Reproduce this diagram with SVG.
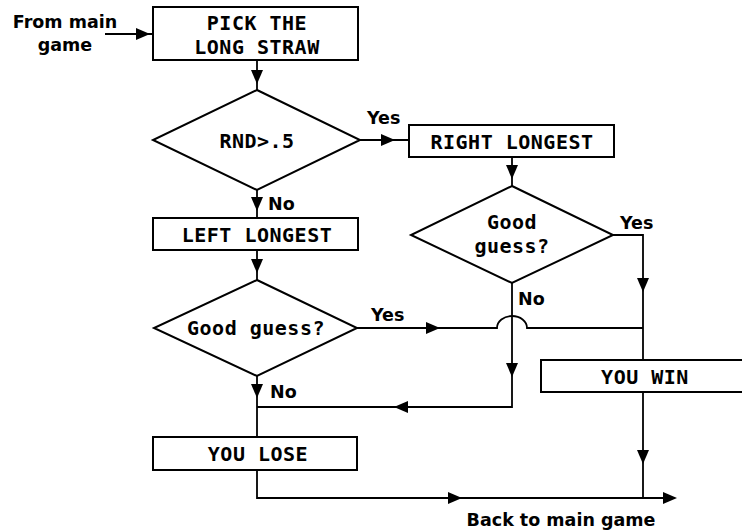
<svg xmlns="http://www.w3.org/2000/svg" xmlns:xlink="http://www.w3.org/1999/xlink" width="742" height="531" viewBox="0 0 742 531">
  <style>
    .box { fill: #fff; stroke: #000; stroke-width: 2; }
    .line { fill: none; stroke: #000; stroke-width: 1.8; }
    .mono { font-family: "DejaVu Sans Mono", "Liberation Mono", monospace; font-weight: bold; font-size: 20px; letter-spacing: 0.5px; fill: #000; text-anchor: middle; }
    .lbl { font-family: "DejaVu Sans", "Liberation Sans", sans-serif; font-weight: bold; font-size: 17.5px; fill: #000; }
  </style>
  <defs>
    <!-- filled arrowhead, tip at the origin, pointing right -->
    <polygon id="ah" points="0,0 -14,-6 -14,6" fill="#000"/>
  </defs>
  <rect width="742" height="531" fill="#fff"/>

  <g id="connectors">
    <!-- entry -->
    <path class="line" d="M105,34 H153"/>
    <use xlink:href="#ah" transform="translate(150,34)"/>
    <!-- pick -> RND test -->
    <path class="line" d="M257,60 V90"/>
    <use xlink:href="#ah" transform="translate(257,84) rotate(90)"/>
    <!-- RND yes -> right longest -->
    <path class="line" d="M360,140 H409"/>
    <use xlink:href="#ah" transform="translate(395,140)"/>
    <!-- right longest -> guess -->
    <path class="line" d="M512,157 V186"/>
    <use xlink:href="#ah" transform="translate(512,179) rotate(90)"/>
    <!-- right guess yes -> win -->
    <path class="line" d="M613,235 H643 V360"/>
    <use xlink:href="#ah" transform="translate(643,292) rotate(90)"/>
    <!-- RND no -> left longest -->
    <path class="line" d="M257,190 V218"/>
    <use xlink:href="#ah" transform="translate(257,211) rotate(90)"/>
    <!-- left longest -> guess -->
    <path class="line" d="M257,250 V280"/>
    <use xlink:href="#ah" transform="translate(257,273) rotate(90)"/>
    <!-- left guess yes -> win (hops over the right "no" line) -->
    <path class="line" d="M357,328 H497 A15,12 0 0 1 527,328 H643"/>
    <use xlink:href="#ah" transform="translate(440,328)"/>
    <!-- right guess no -> lose -->
    <path class="line" d="M512,283 V407 H257"/>
    <use xlink:href="#ah" transform="translate(512,377) rotate(90)"/>
    <use xlink:href="#ah" transform="translate(394,407) rotate(180)"/>
    <!-- left guess no -> lose -->
    <path class="line" d="M257,376 V437"/>
    <use xlink:href="#ah" transform="translate(257,398) rotate(90)"/>
    <!-- exits -->
    <path class="line" d="M257,470 V498 H670"/>
    <use xlink:href="#ah" transform="translate(462,498)"/>
    <use xlink:href="#ah" transform="translate(677,498)"/>
    <path class="line" d="M643,392 V498"/>
    <use xlink:href="#ah" transform="translate(643,464) rotate(90)"/>

    <text class="lbl" x="65" y="28" text-anchor="middle">From main</text>
    <text class="lbl" x="65" y="51" text-anchor="middle">game</text>
    <text class="lbl" x="367" y="124">Yes</text>
    <text class="lbl" x="268" y="210">No</text>
    <text class="lbl" x="620" y="229">Yes</text>
    <text class="lbl" x="518" y="305">No</text>
    <text class="lbl" x="371" y="321">Yes</text>
    <text class="lbl" x="270" y="398">No</text>
    <text class="lbl" x="561" y="526" text-anchor="middle">Back to main game</text>
  </g>

  <g id="pick">
    <rect class="box" x="153" y="7" width="205" height="53"/>
    <text class="mono" x="257" y="30">PICK THE</text>
    <text class="mono" x="257" y="54">LONG STRAW</text>
  </g>

  <g id="rnd">
    <polygon class="box" points="257,90 360,140 257,190 153,140"/>
    <text class="mono" x="257" y="148">RND&gt;.5</text>
  </g>

  <g id="right-longest">
    <rect class="box" x="409" y="125" width="205" height="32"/>
    <text class="mono" x="512" y="149">RIGHT LONGEST</text>
  </g>

  <g id="right-guess">
    <polygon class="box" points="512,186 613,235 512,283 411,235"/>
    <text class="mono" x="512" y="229">Good</text>
    <text class="mono" x="512" y="253">guess?</text>
  </g>

  <g id="left-longest">
    <rect class="box" x="153" y="218" width="205" height="32"/>
    <text class="mono" x="257" y="242">LEFT LONGEST</text>
  </g>

  <g id="left-guess">
    <polygon class="box" points="257,280 357,328 257,376 154,328"/>
    <text class="mono" x="256" y="335">Good guess?</text>
  </g>

  <g id="you-win">
    <rect class="box" x="541" y="360" width="210" height="32"/>
    <text class="mono" x="645" y="384">YOU WIN</text>
  </g>

  <g id="you-lose">
    <rect class="box" x="153" y="437" width="204" height="33"/>
    <text class="mono" x="258" y="461">YOU LOSE</text>
  </g>
</svg>
